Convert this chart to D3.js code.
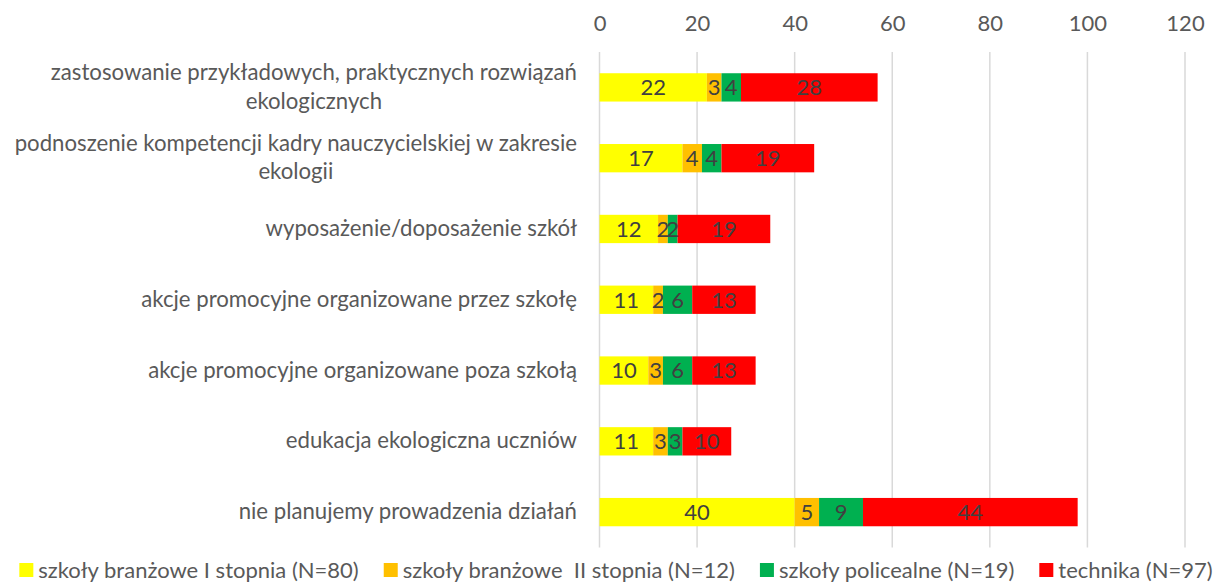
<!DOCTYPE html>
<html lang="pl">
<head>
<meta charset="utf-8">
<script src="https://cdn.jsdelivr.net/npm/d3@7/dist/d3.min.js"></script>
<style>
  html, body { margin: 0; padding: 0; background: #fff; }
  svg { display: block; font-family: Lato, "Open Sans", sans-serif; }
  .pre { white-space: pre; }
</style>
</head>
<body>
<svg id="chart" width="1220" height="586"></svg>
<script>
// Planned ecological activities, by school type (counts of schools)
const categories = [
  "zastosowanie przykładowych, praktycznych rozwiązań ekologicznych",
  "podnoszenie kompetencji kadry nauczycielskiej w zakresie ekologii",
  "wyposażenie/doposażenie szkół",
  "akcje promocyjne organizowane przez szkołę",
  "akcje promocyjne organizowane poza szkołą",
  "edukacja ekologiczna uczniów",
  "nie planujemy prowadzenia działań"
];
// label line breaks for the long category names
const categoryLines = [
  ["zastosowanie przykładowych, praktycznych rozwiązań", "ekologicznych"],
  ["podnoszenie kompetencji kadry nauczycielskiej w zakresie", "ekologii"],
  ["wyposażenie/doposażenie szkół"],
  ["akcje promocyjne organizowane przez szkołę"],
  ["akcje promocyjne organizowane poza szkołą"],
  ["edukacja ekologiczna uczniów"],
  ["nie planujemy prowadzenia działań"]
];
const seriesNames = [
  "szkoły branżowe I stopnia (N=80)",
  "szkoły branżowe  II stopnia (N=12)",
  "szkoły policealne (N=19)",
  "technika (N=97)"
];
const branzoweI   = [22, 17, 12, 11, 10, 11, 40];
const branzoweII  = [3, 4, 2, 2, 3, 3, 5];
const policealne  = [4, 4, 2, 6, 6, 3, 9];
const technika    = [28, 19, 19, 13, 13, 10, 44];
const xTicks = [0, 20, 40, 60, 80, 100, 120];

const palette = ["#FFFF00", "#FFC000", "#00B050", "#FF0000"];

const rows = categories.map((c, i) => ({
  category: c,
  lines: categoryLines[i],
  values: [branzoweI[i], branzoweII[i], policealne[i], technika[i]]
}));

const svg = d3.select("#chart");
const fontSize = 22;

const x = d3.scaleLinear().domain([0, 120]).range([599.5, 1185]);
const y = d3.scaleBand().domain(categories).range([52, 547.5])
  .paddingInner(0.6).paddingOuter(0.3);

// vertical gridlines
svg.append("g")
  .selectAll("line")
  .data(xTicks)
  .join("line")
  .attr("x1", d => x(d)).attr("x2", d => x(d))
  .attr("y1", 52).attr("y2", 547.5)
  .attr("stroke", "#d9d9d9").attr("stroke-width", 1.5);

// top axis labels
const xAxis = d3.axisTop(x).tickValues(xTicks).tickSize(0).tickPadding(0);
const gx = svg.append("g").attr("transform", "translate(0,31)").call(xAxis);
gx.select(".domain").remove();
gx.selectAll("text")
  .attr("font-family", "Lato, 'Open Sans', sans-serif")
  .attr("font-size", fontSize)
  .attr("fill", "#595959");

// stacked segments
const stackData = rows.map(r => {
  let acc = 0;
  return r.values.map((v, k) => {
    const seg = { category: r.category, k, v, x0: acc, x1: acc + v };
    acc += v;
    return seg;
  });
}).flat();

const barG = svg.append("g");
barG.selectAll("rect")
  .data(stackData)
  .join("rect")
  .attr("x", d => x(d.x0))
  .attr("y", d => y(d.category))
  .attr("width", d => x(d.x1) - x(d.x0))
  .attr("height", y.bandwidth())
  .attr("fill", d => palette[d.k]);

barG.selectAll("text")
  .data(stackData.filter(d => d.v > 0))
  .join("text")
  .attr("x", d => (x(d.x0) + x(d.x1)) / 2)
  .attr("y", d => y(d.category) + y.bandwidth() / 2)
  .attr("dy", "0.36em")
  .attr("text-anchor", "middle")
  .attr("font-size", fontSize)
  .attr("fill", "#404040")
  .text(d => d.v);

// category labels: right aligned block, multi-line centred on each other
const labelRight = 577;
const lineGap = 28.5;
const catG = svg.append("g");
rows.forEach(r => {
  const cy = y(r.category) + y.bandwidth() / 2;
  const n = r.lines.length;
  const t = catG.append("text")
    .attr("font-size", fontSize + 0.2)
    .attr("fill", "#595959");
  r.lines.forEach((ln, i) => {
    t.append("tspan")
      .attr("y", cy + 7 + (i - (n - 1) / 2) * lineGap)
      .text(ln);
  });
  if (n === 1) {
    t.attr("text-anchor", "end").selectAll("tspan").attr("x", labelRight);
  } else {
    const widths = t.selectAll("tspan").nodes().map(s => s.getComputedTextLength());
    const w = d3.max(widths);
    t.attr("text-anchor", "middle").selectAll("tspan").attr("x", labelRight - w / 2);
  }
});

// legend along the bottom, centred
const legend = svg.append("g");
const items = seriesNames.map((name, k) => {
  const g = legend.append("g");
  g.append("rect").attr("width", 14).attr("height", 14)
    .attr("y", -7).attr("fill", palette[k]);
  const tx = g.append("text").attr("class", "pre")
    .attr("x", 19).attr("dy", "0.35em")
    .attr("font-size", fontSize)
    .attr("fill", "#595959")
    .text(name);
  return { g, w: 19 + tx.node().getComputedTextLength() };
});
const gap = 25;
const total = d3.sum(items, d => d.w) + gap * (items.length - 1);
let lx = 616 - total / 2;
items.forEach(it => {
  it.g.attr("transform", `translate(${lx},570)`);
  lx += it.w + gap;
});
</script>
</body>
</html>
